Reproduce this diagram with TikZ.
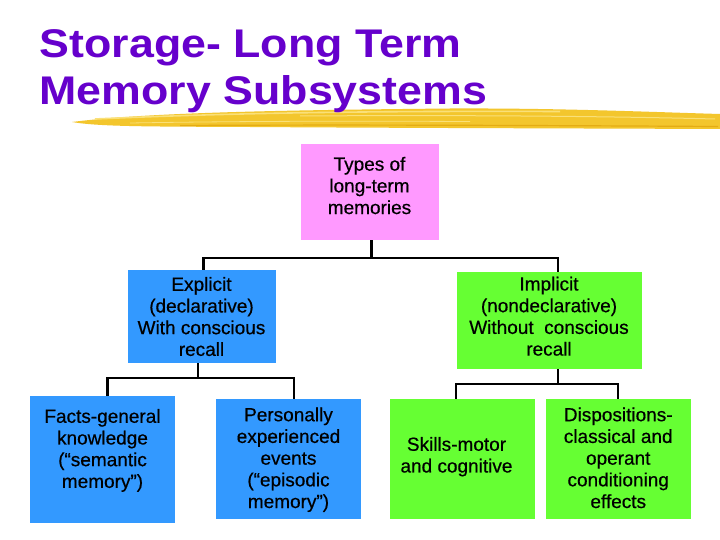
\documentclass[tikz,border=0pt]{standalone}
\usepackage{fontspec}
\setmainfont{Liberation Sans}
\newfontfamily\titlefont[FakeStretch=1.118]{Liberation Sans}
\newfontfamily\blockfont[FakeBold=0.5,Ligatures=TeX]{Liberation Sans}

\definecolor{titlepurple}{RGB}{102,0,204}
\definecolor{boxpink}{RGB}{255,153,255}
\definecolor{boxblue}{RGB}{51,153,255}
\definecolor{boxgreen}{RGB}{102,255,51}
\definecolor{brushgold}{RGB}{243,198,45}
\definecolor{brushlight}{RGB}{250,224,120}
\definecolor{brushdark}{RGB}{228,172,20}

% lines of a block, moved by [dx]{dy} from the middle of the box
\newcommand{\blocktext}[3][0]{\raisebox{\dimexpr#2pt-5.3pt\relax}[0pt][0pt]{\makebox[0pt]{\hspace*{\dimexpr2\dimexpr#1pt\relax\relax}\begin{tabular}{@{}c@{}}#3\end{tabular}}}}

\tikzset{
  block/.style={rectangle, inner sep=0pt, font=\blockfont\fontsize{19}{21.7}\selectfont},
  pinkblock/.style={block, fill=boxpink},
  blueblock/.style={block, fill=boxblue},
  greenblock/.style={block, fill=boxgreen},
  link/.style={draw=black, line width=2.2pt}
}

\begin{document}
\begin{tikzpicture}[x=1pt,y=-1pt]
\fill[white] (0,0) rectangle (720,540);
\useasboundingbox (0,0) rectangle (720,540);
% brush stroke under the title
\fill[brushgold] (72,122) .. controls (150,112) and (300,110) .. (450,108.5)
  .. controls (560,108) and (650,112) .. (720,114) -- (720,129)
  .. controls (600,128.5) and (400,128) .. (250,127)
  .. controls (160,126.5) and (100,127) .. (72,122) -- cycle;
\draw[brushlight, line width=1.6pt] (95,119) .. controls (250,112) and (400,111) .. (560,111.5);
\draw[brushlight, line width=1pt] (300,116) .. controls (450,115) and (600,116) .. (715,119);
\draw[brushlight, line width=0.8pt] (130,123) .. controls (250,121) and (350,121) .. (470,121.5);
\draw[brushdark, line width=1.2pt] (180,125.5) .. controls (350,124.5) and (550,125.5) .. (718,126.5);
\node[anchor=north west, inner sep=0pt, align=left, text=titlepurple,
  font=\titlefont\bfseries\fontsize{40}{47}\selectfont] (title) at (39.5,29.5)
  {Storage- Long Term\\Memory Subsystems};
% blocks
\node[pinkblock, minimum width=138pt, minimum height=96pt] (root) at (369.5,192)
  {\blocktext{5}{Types of\\long-term\\memories}};
\node[blueblock, minimum width=148pt, minimum height=93pt] (explicit) at (201.5,316.7)
  {\blocktext{-1.3}{Explicit\\(declarative)\\With conscious\\recall}};
\node[greenblock, minimum width=185pt, minimum height=97pt] (implicit) at (549,320.5)
  {\blocktext{2.8}{Implicit\\(nondeclarative)\\Without~ conscious\\recall}};
\node[blueblock, minimum width=145pt, minimum height=126.7pt] (facts) at (102.5,459.4)
  {\blocktext{9.4}{Facts-general\\knowledge\\(“semantic\\memory”)}};
\node[blueblock, minimum width=145pt, minimum height=120pt] (personal) at (288.5,459.3)
  {\blocktext{0}{Personally\\experienced\\events\\(“episodic\\memory”)}};
\node[greenblock, minimum width=145pt, minimum height=120pt] (skills) at (462.5,459.3)
  {\blocktext[-6]{3}{Skills-motor\\and cognitive}};
\node[greenblock, minimum width=145.5pt, minimum height=120pt] (dispositions) at (618.25,459.3)
  {\blocktext{0}{Dispositions-\\classical and\\operant\\conditioning\\effects}};
% connectors
\draw[link] ([xshift=2pt]root.south) -- ++(0,17.7) -| ([xshift=2pt]explicit.north);
\draw[link] ([xshift=2pt]root.south) -- ++(0,17.7) -| ([xshift=9pt]implicit.north);
\draw[link] ([xshift=-3.5pt]explicit.south) -- ++(0,14.7) -| ([xshift=5pt]facts.north);
\draw[link] ([xshift=-3.5pt]explicit.south) -- ++(0,14.7) -| ([xshift=5.5pt]personal.north);
\draw[link] ([xshift=9pt]implicit.south) -- ++(0,15) -| ([xshift=-6.5pt]skills.north);
\draw[link] ([xshift=9pt]implicit.south) -- ++(0,15) -| (dispositions.north);
\end{tikzpicture}
\end{document}
